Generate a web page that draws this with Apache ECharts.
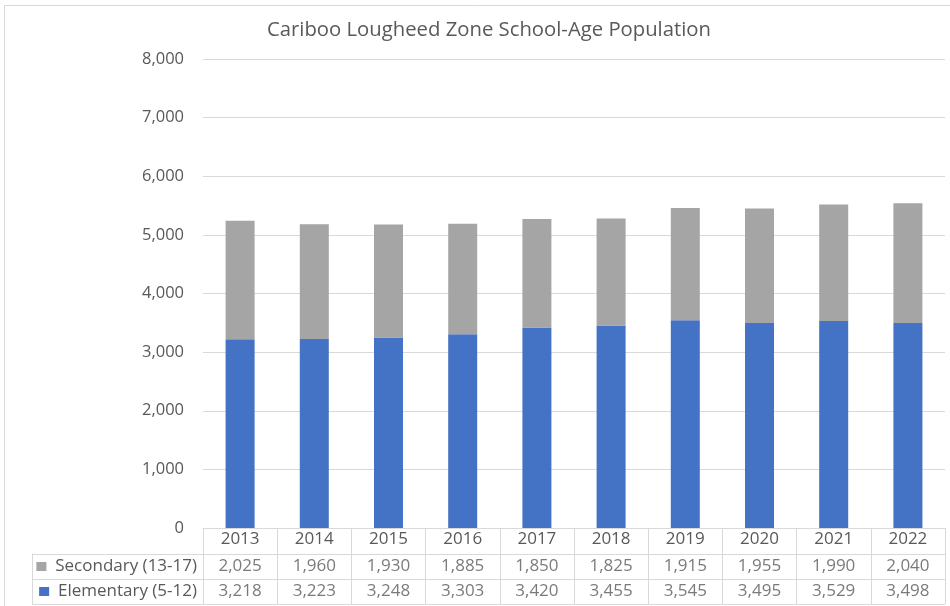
<!DOCTYPE html>
<html><head><meta charset="utf-8">
<script src="https://cdn.jsdelivr.net/npm/echarts@6/dist/echarts.min.js"></script>
<style>html,body{margin:0;padding:0;background:#fff}#c{width:950px;height:606px}</style>
</head><body><div id="c"></div>
<script>
const years = ['2013','2014','2015','2016','2017','2018','2019','2020','2021','2022'];
const secondary = [2025,1960,1930,1885,1850,1825,1915,1955,1990,2040];
const elementary = [3218,3223,3248,3303,3420,3455,3545,3495,3529,3498];
const secName = 'Secondary (13-17)';
const eleName = 'Elementary (5-12)';
const yTicks = [0,1000,2000,3000,4000,5000,6000,7000,8000];

const FONT = 'Open Sans';
const TXT = '#595959';
const LINE = '#d9d9d9';
const fmt = v => Number(v).toLocaleString('en-US');

const chart = echarts.init(document.getElementById('c'), null, {renderer:'canvas'});
chart.setOption({
  animation:false,
  textStyle:{fontFamily:FONT},
  title:{text:'Cariboo Lougheed Zone School-Age Population', left:484, textAlign:'center', top:15,
    textStyle:{fontFamily:FONT, fontWeight:'normal', fontSize:20.3, color:TXT}},
  graphic:[{type:'rect', shape:{x:4.5,y:5.5,width:1000,height:700}, style:{fill:'none', stroke:LINE, lineWidth:1}, silent:true}],
  grid:[
    {left:203, right:5, top:59, bottom:78},
    {left:203, right:5, top:554, height:50}
  ],
  xAxis:[
    {type:'category', gridIndex:0, data:years,
     axisLine:{show:true, lineStyle:{color:LINE}},
     axisTick:{show:true, length:26, lineStyle:{color:LINE}},
     axisLabel:{color:TXT, fontSize:17, fontFamily:FONT, margin:3},
     splitLine:{show:false}},
    {type:'category', gridIndex:1, data:years,
     axisLine:{show:false}, axisTick:{show:false}, axisLabel:{show:false},
     splitLine:{show:true, lineStyle:{color:LINE}}}
  ],
  yAxis:[
    {type:'value', gridIndex:0, min:0, max:8000, interval:1000,
     axisLine:{show:false}, axisTick:{show:false},
     axisLabel:{color:TXT, fontSize:16.5, fontFamily:FONT, margin:19, formatter:fmt},
     splitLine:{show:true, lineStyle:{color:LINE}}},
    {type:'value', gridIndex:1, min:0, max:2, interval:1,
     axisLine:{show:true, lineStyle:{color:LINE}},
     axisTick:{show:true, length:171, lineStyle:{color:LINE}},
     splitLine:{show:true, lineStyle:{color:LINE}},
     axisLabel:{customValues:[0.5,1.5], margin:6, color:TXT, fontSize:17, fontFamily:FONT,
       formatter: v => v > 1 ? '{g|}  ' + secName : '{b|}  ' + eleName,
       rich:{g:{width:10,height:9,backgroundColor:'#a5a5a5'}, b:{width:10,height:9,backgroundColor:'#4472c4'}}}},
    {type:'value', gridIndex:1, min:0, max:2, position:'left', offset:171,
     axisLine:{show:true, lineStyle:{color:LINE}}, axisTick:{show:false}, axisLabel:{show:false}, splitLine:{show:false}}
  ],
  series:[
    {name:eleName, type:'bar', stack:'a', xAxisIndex:0, yAxisIndex:0, data:elementary, barWidth:29,
     itemStyle:{color:'#4472c4'}},
    {name:secName, type:'bar', stack:'a', xAxisIndex:0, yAxisIndex:0, data:secondary, barWidth:29,
     itemStyle:{color:'#a5a5a5'}},
    {type:'scatter', xAxisIndex:1, yAxisIndex:1, symbolSize:0, silent:true,
     data: years.map((y,i)=>[i,1.5,secondary[i]]),
     label:{show:true, position:'inside', formatter:p=>fmt(p.value[2]), color:TXT, fontSize:17, fontFamily:FONT}},
    {type:'scatter', xAxisIndex:1, yAxisIndex:1, symbolSize:0, silent:true,
     data: years.map((y,i)=>[i,0.5,elementary[i]]),
     label:{show:true, position:'inside', formatter:p=>fmt(p.value[2]), color:TXT, fontSize:17, fontFamily:FONT}}
  ]
});
</script></body></html>
